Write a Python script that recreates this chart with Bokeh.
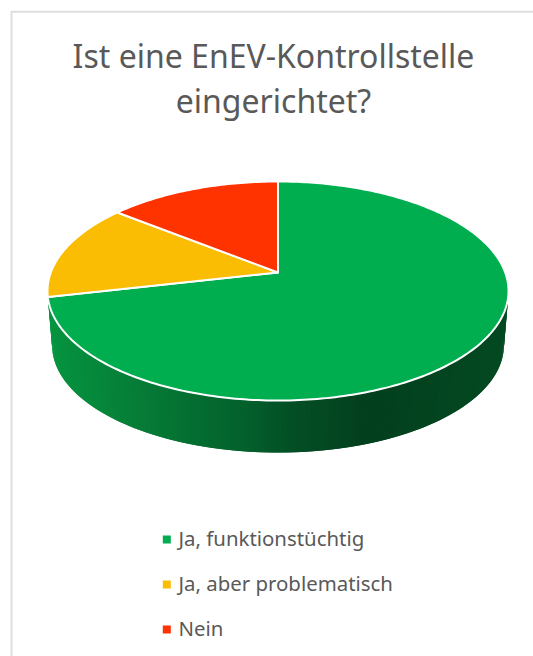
import numpy as np
from bokeh.core.properties import value
from bokeh.embed import file_html
from bokeh.models import Range1d
from bokeh.plotting import figure
from bokeh.resources import INLINE

title_lines = ["Ist eine EnEV-Kontrollstelle", "eingerichtet?"]
categories = ["Ja, funktionstüchtig", "Ja, aber problematisch", "Nein"]
counts = [10, 2, 2]
slice_colors = ["#00AE50", "#FBBC04", "#FF3300"]

TEXT_COLOR = "#595959"
FRAME_COLOR = "#DEDEDE"
FONT = "Noto Sans"

# Disc seen in perspective: pivot on screen, half-axes and tilt strength
PIVOT_X, PIVOT_Y = 277.5, 272.0
AXIS_U, AXIS_V, TILT = 227.2, 106.4, 0.169
WALL_SCALE, WALL_DROP = 0.98, 54.6


def project(theta, scale=1.0, drop=0.0):
    """Map a clockwise-from-top angle on the unit disc to page pixels."""
    u, v = np.sin(theta), np.cos(theta)
    w = 1 + TILT * v
    return (PIVOT_X + scale * AXIS_U * u / w,
            PIVOT_Y + drop - scale * AXIS_V * v / w)


def wall_shade(x):
    """Dark green side colour, brightest on the left, darkest right of centre."""
    stops_x = [50, 150, 250, 290, 370, 510]
    stops_r = [6, 6, 3, 3, 3, 4]
    stops_g = [148, 122, 96, 80, 64, 74]
    stops_b = [64, 54, 44, 38, 30, 34]
    r = int(np.interp(x, stops_x, stops_r))
    g = int(np.interp(x, stops_x, stops_g))
    b = int(np.interp(x, stops_x, stops_b))
    return f"#{r:02x}{g:02x}{b:02x}"


p = figure(width=533, height=656, output_backend="svg", toolbar_location=None,
           x_range=Range1d(0, 533), y_range=Range1d(656, 0), min_border=0,
           outline_line_color=None, background_fill_color="white",
           border_fill_color="white")
p.axis.visible = False
p.grid.visible = False

# Chart frame: only its top and left edges fall inside the page
p.line([533, 11, 11], [11.3, 11.3, 656], line_color=FRAME_COLOR, line_width=2)

# Side wall of the disc: shaded quads, each overlapping the next so no seams show
edges = np.linspace(np.pi / 2, 3 * np.pi / 2, 181)
step = edges[1] - edges[0]
wall_xs, wall_ys, wall_cols = [], [], []
for t0 in edges[:-1]:
    t1 = min(t0 + 2 * step, edges[-1])
    x0, y0 = project(t0)
    x1, y1 = project(t1)
    x2, y2 = project(t1, WALL_SCALE, WALL_DROP)
    x3, y3 = project(t0, WALL_SCALE, WALL_DROP)
    wall_xs.append([x0, x1, x2, x3])
    wall_ys.append([y0, y1, y2, y3])
    wall_cols.append(wall_shade(x0))
p.patches(wall_xs, wall_ys, fill_color=wall_cols, line_color=None)

# Top face: slices run clockwise from twelve o'clock
bounds = np.concatenate([[0], np.cumsum(counts)]) / np.sum(counts) * 2 * np.pi
for start, stop, color in zip(bounds[:-1], bounds[1:], slice_colors):
    thetas = np.linspace(start, stop, max(int((stop - start) * 60), 8))
    xs, ys = project(thetas)
    p.patch(np.r_[PIVOT_X, xs], np.r_[PIVOT_Y, ys], fill_color=color,
            line_color="white", line_width=2, line_join="round")

# Title
for line, base in zip(title_lines, [55, 100]):
    p.text([273], [base], text=[line], text_font=value(FONT), text_font_size="32px",
           text_color=TEXT_COLOR, text_align="center", text_baseline="alphabetic")

# Legend
legend_y = [539, 584, 629]
p.rect([166.3] * 3, legend_y, width=8, height=8, fill_color=slice_colors, line_color=None)
p.text([178] * 3, [y - 2 for y in legend_y], text=categories, text_font=value(FONT),
       text_font_size="20.4px", text_color=TEXT_COLOR, text_align="left",
       text_baseline="alphabetic")

open("out.html", "w").write(file_html(p, INLINE))
